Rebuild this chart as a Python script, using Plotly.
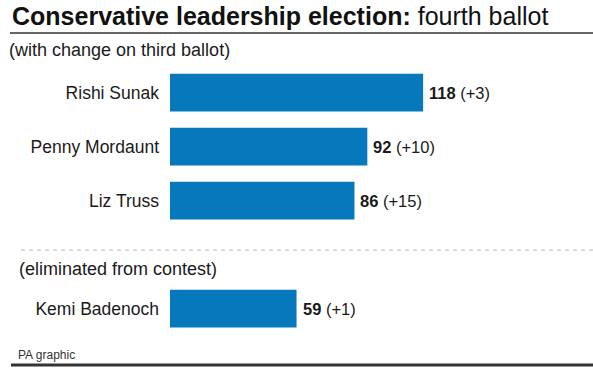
import plotly.graph_objects as go

names = ["Rishi Sunak", "Penny Mordaunt", "Liz Truss", "Kemi Badenoch"]
votes = [118, 92, 86, 59]
changes = ["+3", "+10", "+15", "+1"]
rows = [0, 1, 2, 4]

W, H = 593, 370
FONT = "Liberation Sans"
BAR = "#0679bc"
TXT = "#1a1a1a"

# pixel geometry
x0_px = 170
px_per_unit = 2.145
y0_px = 92.7    # centre of row 0
row_px = 54

xmax = (W - x0_px) / px_per_unit
ytop = -y0_px / row_px
ybot = ytop + H / row_px

fig = go.Figure()
fig.add_trace(go.Bar(
    x=votes, y=rows, orientation="h",
    marker=dict(color=BAR, line=dict(width=0)),
    width=0.70, hoverinfo="skip",
))

for n, v, c, r in zip(names, votes, changes, rows):
    fig.add_annotation(
        x=v, y=r, xref="x", yref="y",
        text=f"<b>{v}</b> ({c})", showarrow=False,
        xanchor="left", yanchor="middle", xshift=4,
        font=dict(family=FONT, size=16.5, color=TXT),
    )

def px(x):
    return x / W

def py(y):
    return 1 - y / H

fig.update_layout(
    width=W, height=H,
    margin=dict(l=0, r=0, t=0, b=0),
    paper_bgcolor="white", plot_bgcolor="white",
    showlegend=False,
    font=dict(family=FONT, color=TXT),
    xaxis=dict(domain=[x0_px / W, 1], range=[0, xmax], visible=False, fixedrange=True),
    yaxis=dict(
        domain=[0, 1], range=[ybot, ytop],
        tickvals=rows, ticktext=names, ticks="", showgrid=False,
        zeroline=False, showline=False, automargin=False,
        ticklabelstandoff=10, fixedrange=True,
        tickfont=dict(family=FONT, size=17.5, color=TXT),
    ),
)

# title and texts
fig.add_annotation(
    x=px(10), y=py(16.5), xref="paper", yref="paper",
    text="<b>Conservative leadership election:</b> fourth ballot",
    showarrow=False, xanchor="left", yanchor="middle",
    font=dict(family=FONT, size=25, color="#111"),
)
fig.add_annotation(
    x=px(7), y=py(50), xref="paper", yref="paper",
    text="(with change on third ballot)",
    showarrow=False, xanchor="left", yanchor="middle",
    font=dict(family=FONT, size=18, color=TXT),
)
fig.add_annotation(
    x=px(17), y=py(268.5), xref="paper", yref="paper",
    text="(eliminated from contest)",
    showarrow=False, xanchor="left", yanchor="middle",
    font=dict(family=FONT, size=18, color=TXT),
)
fig.add_annotation(
    x=px(16), y=py(355), xref="paper", yref="paper",
    text="PA graphic",
    showarrow=False, xanchor="left", yanchor="middle",
    font=dict(family=FONT, size=12, color="#333"),
)

# rules
fig.add_shape(type="line", xref="paper", yref="paper",
              x0=px(10), x1=1, y0=py(33), y1=py(33),
              line=dict(color="#666", width=2))
fig.add_shape(type="line", xref="paper", yref="paper",
              x0=px(21), x1=1, y0=py(250), y1=py(250),
              line=dict(color="#b5b5b5", width=1, dash="4px,4px"))
fig.add_shape(type="line", xref="paper", yref="paper",
              x0=px(11), x1=1, y0=py(365), y1=py(365),
              line=dict(color="#333", width=3))

fig.write_html(
    "out.html",
    config={"displayModeBar": False, "staticPlot": True},
    post_script="document.body.style.margin='0';document.body.style.padding='0';document.body.style.overflow='hidden';",
)
